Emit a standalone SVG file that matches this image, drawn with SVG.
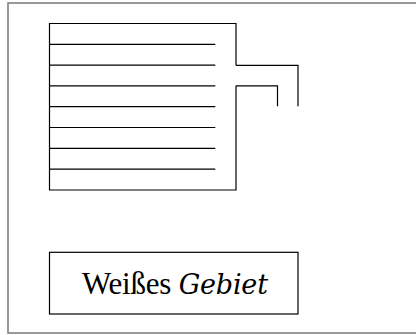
<svg xmlns="http://www.w3.org/2000/svg" width="416" height="335" viewBox="0 0 416 335">
  <style>
    .ln { fill: none; stroke: #000; stroke-width: 1.2; stroke-linecap: butt; stroke-linejoin: miter; }
    .frame { fill: none; stroke: #777; stroke-width: 1.5; }
    .lbl { font-family: "Liberation Serif", "DejaVu Serif", serif; font-size: 31px; fill: #000; }
    .it { font-family: "DejaVu Serif", "Liberation Serif", serif; font-style: italic; font-size: 27px; }
  </style>
  <rect width="416" height="335" fill="#fff"/>
  <!-- outer frame, open to the right -->
  <rect class="frame" x="8" y="3" width="420" height="330"/>

  <!-- ruled tank with outlet pipe -->
  <g id="tank">
    <path class="ln" d="M236,65.3 V23.5 H49.5 V190 H236 V85.8"/>
    <g id="rules">
      <line class="ln" x1="49.5" y1="44.3" x2="215.3" y2="44.3"/>
      <line class="ln" x1="49.5" y1="65.1" x2="215.3" y2="65.1"/>
      <line class="ln" x1="49.5" y1="85.9" x2="215.3" y2="85.9"/>
      <line class="ln" x1="49.5" y1="106.7" x2="215.3" y2="106.7"/>
      <line class="ln" x1="49.5" y1="127.5" x2="215.3" y2="127.5"/>
      <line class="ln" x1="49.5" y1="148.3" x2="215.3" y2="148.3"/>
      <line class="ln" x1="49.5" y1="169.1" x2="215.3" y2="169.1"/>
    </g>
    <path class="ln" d="M236,65.3 H298 V106.3"/>
    <path class="ln" d="M236,85.8 H277.5 V106.3"/>
  </g>

  <!-- label box -->
  <g id="label">
    <rect class="ln" x="49.5" y="252.3" width="248.5" height="61.7"/>
    <text class="lbl" x="82" y="294" textLength="186" lengthAdjust="spacing">Weißes <tspan class="it">Gebiet</tspan></text>
  </g>
</svg>
